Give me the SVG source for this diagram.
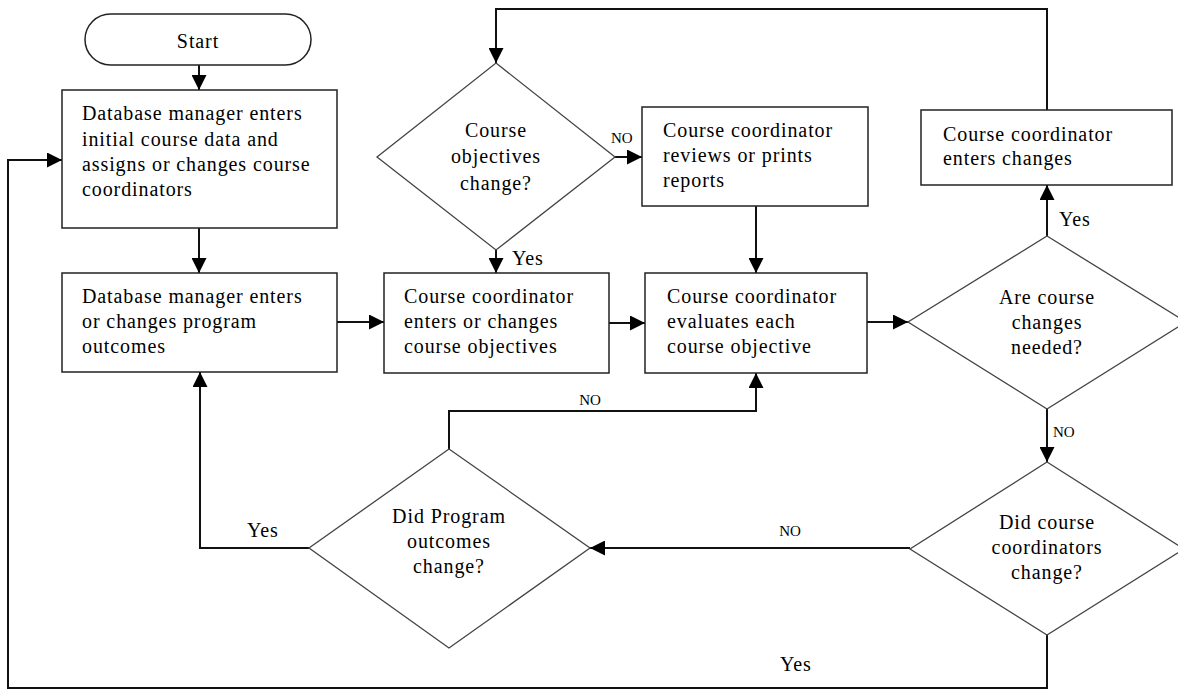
<svg xmlns="http://www.w3.org/2000/svg" width="1178" height="690" viewBox="0 0 1178 690">
<style>
.box{fill:#fff;stroke:#222;stroke-width:1.5}
.dia{fill:#fff;stroke:#444;stroke-width:1.3}
.t{font-family:"Liberation Serif","Times New Roman",serif;font-size:20px;fill:#000;letter-spacing:0.9px}
.c{text-anchor:middle}
.lbl{font-family:"Liberation Serif","Times New Roman",serif;font-size:20px;fill:#000;letter-spacing:0.9px}
.no{font-family:"Liberation Serif","Times New Roman",serif;font-size:15px;fill:#000}
.edge{fill:none;stroke:#111;stroke-width:2}
</style>
<defs>
<marker id="arr" markerUnits="userSpaceOnUse" markerWidth="15" markerHeight="15" refX="15" refY="7.5" orient="auto">
<path d="M0,0 L15,7.5 L0,15 Z" fill="#000"/>
</marker>
</defs>
<rect width="1178" height="690" fill="#fff"/>
<g id="connectors">
<path class="edge" d="M199,65 V90" marker-end="url(#arr)"/>
<path class="edge" d="M199,228 V273" marker-end="url(#arr)"/>
<path class="edge" d="M337,322 H384" marker-end="url(#arr)"/>
<path class="edge" d="M609,323 H645" marker-end="url(#arr)"/>
<path class="edge" d="M867,322 H908" marker-end="url(#arr)"/>
<path class="edge" d="M496,250 V273" marker-end="url(#arr)"/>
<path class="edge" d="M615,157 H642" marker-end="url(#arr)"/>
<path class="edge" d="M756,206 V273" marker-end="url(#arr)"/>
<path class="edge" d="M1047,236 V185" marker-end="url(#arr)"/>
<path class="edge" d="M1047,110 V9 H496 V63" marker-end="url(#arr)"/>
<path class="edge" d="M1047,409 V462" marker-end="url(#arr)"/>
<path class="edge" d="M910,548 H590" marker-end="url(#arr)"/>
<path class="edge" d="M1047,635 V688 H8 V160 H62" marker-end="url(#arr)"/>
<path class="edge" d="M449,449 V411 H756 V373" marker-end="url(#arr)"/>
<path class="edge" d="M309,548 H200 V372" marker-end="url(#arr)"/>
<text class="lbl" x="512" y="265">Yes</text>
<text class="no" x="611" y="143">NO</text>
<text class="lbl" x="1059" y="226">Yes</text>
<text class="no" x="1053" y="437">NO</text>
<text class="no c" x="790" y="536" text-anchor="middle">NO</text>
<text class="lbl" x="780" y="671">Yes</text>
<text class="no" x="590" y="405" text-anchor="middle">NO</text>
<text class="lbl" x="247" y="537">Yes</text>
</g>
<g id="start">
<rect class="box" x="85" y="14" width="226" height="51" rx="25.5"/>
<text class="t c" x="198" y="48">Start</text>
</g>
<g id="box1">
<rect class="box" x="62" y="90" width="275" height="138"/>
<text class="t" x="82" y="120">Database manager enters</text>
<text class="t" x="82" y="145.5">initial course data and</text>
<text class="t" x="82" y="171">assigns or changes course</text>
<text class="t" x="82" y="196">coordinators</text>
</g>
<g id="box2">
<rect class="box" x="62" y="273" width="275" height="99"/>
<text class="t" x="82" y="303">Database manager enters</text>
<text class="t" x="82" y="328">or changes program</text>
<text class="t" x="82" y="353">outcomes</text>
</g>
<g id="box3">
<rect class="box" x="384" y="273" width="225" height="100"/>
<text class="t" x="404" y="303">Course coordinator</text>
<text class="t" x="404" y="328">enters or changes</text>
<text class="t" x="404" y="353">course objectives</text>
</g>
<g id="box4">
<rect class="box" x="642" y="107" width="226" height="99"/>
<text class="t" x="663" y="137">Course coordinator</text>
<text class="t" x="663" y="162">reviews or prints</text>
<text class="t" x="663" y="187">reports</text>
</g>
<g id="box5">
<rect class="box" x="645" y="273" width="222" height="100"/>
<text class="t" x="667" y="303">Course coordinator</text>
<text class="t" x="667" y="328">evaluates each</text>
<text class="t" x="667" y="353">course objective</text>
</g>
<g id="box6">
<rect class="box" x="921" y="110" width="251" height="75"/>
<text class="t" x="943" y="141">Course coordinator</text>
<text class="t" x="943" y="165">enters changes</text>
</g>
<g id="dia1">
<polygon class="dia" points="496,63 615,157 496,250 377,157"/>
<text class="t c" x="496" y="137">Course</text>
<text class="t c" x="496" y="163">objectives</text>
<text class="t c" x="496" y="190">change?</text>
</g>
<g id="dia3">
<polygon class="dia" points="1047,236 1186,322 1047,409 908,322"/>
<text class="t c" x="1047" y="304">Are course</text>
<text class="t c" x="1047" y="329">changes</text>
<text class="t c" x="1047" y="354">needed?</text>
</g>
<g id="dia4">
<polygon class="dia" points="1047,462 1184,549 1047,635 910,549"/>
<text class="t c" x="1047" y="529">Did course</text>
<text class="t c" x="1047" y="554">coordinators</text>
<text class="t c" x="1047" y="579">change?</text>
</g>
<g id="dia2">
<polygon class="dia" points="449,449 590,548 449,648 309,548"/>
<text class="t c" x="449" y="523">Did Program</text>
<text class="t c" x="449" y="548">outcomes</text>
<text class="t c" x="449" y="573">change?</text>
</g>
</svg>
